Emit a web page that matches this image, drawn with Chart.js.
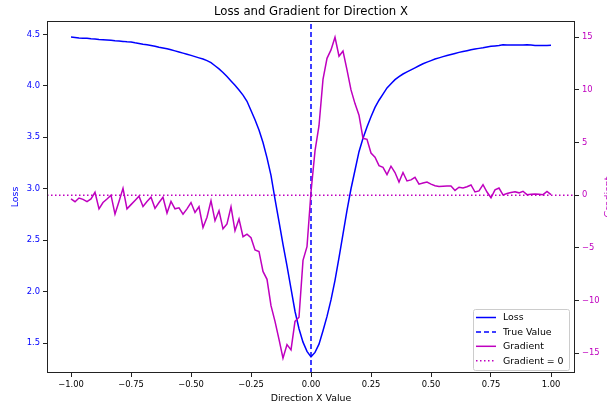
<!DOCTYPE html>
<html>
<head>
<meta charset="utf-8">
<script src="https://cdn.jsdelivr.net/npm/chart.js@4.4.0/dist/chart.umd.min.js"></script>
<style>
  html, body { margin: 0; padding: 0; background: #fff; overflow: hidden; }
  #wrap { width: 607px; height: 406px; }
</style>
</head>
<body>
<div id="wrap"><canvas id="lossChart" width="607" height="406"></canvas></div>
<script>
// x positions of the samples (direction X value)
const xValues = [
  -1.0, -0.9833, -0.9667, -0.95, -0.9333, -0.9167, -0.9, -0.8833, -0.8667, -0.85,
  -0.8333, -0.8167, -0.8, -0.7833, -0.7667, -0.75, -0.7333, -0.7167, -0.7, -0.6833,
  -0.6667, -0.65, -0.6333, -0.6167, -0.6, -0.5833, -0.5667, -0.55, -0.5333, -0.5167,
  -0.5, -0.4833, -0.4667, -0.45, -0.4333, -0.4167, -0.4, -0.3833, -0.3667, -0.35,
  -0.3333, -0.3167, -0.3, -0.2833, -0.2667, -0.25, -0.2333, -0.2167, -0.2, -0.1833,
  -0.1667, -0.15, -0.1333, -0.1167, -0.1, -0.0833, -0.0667, -0.05, -0.0333, -0.0167,
  0.0, 0.0167, 0.0333, 0.05, 0.0667, 0.0833, 0.1, 0.1167, 0.1333, 0.15,
  0.1667, 0.1833, 0.2, 0.2167, 0.2333, 0.25, 0.2667, 0.2833, 0.3, 0.3167,
  0.3333, 0.35, 0.3667, 0.3833, 0.4, 0.4167, 0.4333, 0.45, 0.4667, 0.4833,
  0.5, 0.5167, 0.5333, 0.55, 0.5667, 0.5833, 0.6, 0.6167, 0.6333, 0.65,
  0.6667, 0.6833, 0.7, 0.7167, 0.7333, 0.75, 0.7667, 0.7833, 0.8, 0.8167,
  0.8333, 0.85, 0.8667, 0.8833, 0.9, 0.9167, 0.9333, 0.95, 0.9667, 0.9833,
  1.0
];

// loss values (left axis)
const lossValues = [
  4.474, 4.470, 4.466, 4.463, 4.462, 4.458, 4.455, 4.450, 4.448, 4.445,
  4.442, 4.438, 4.435, 4.432, 4.428, 4.425, 4.418, 4.412, 4.405, 4.399,
  4.393, 4.385, 4.376, 4.368, 4.360, 4.351, 4.340, 4.329, 4.318, 4.307,
  4.296, 4.284, 4.272, 4.260, 4.245, 4.225, 4.195, 4.165, 4.130, 4.090,
  4.047, 4.005, 3.960, 3.910, 3.850, 3.760, 3.670, 3.570, 3.450, 3.300,
  3.130, 2.900, 2.680, 2.460, 2.250, 2.030, 1.810, 1.640, 1.510, 1.420,
  1.367, 1.410, 1.490, 1.620, 1.760, 1.920, 2.110, 2.330, 2.560, 2.790,
  3.000, 3.180, 3.360, 3.490, 3.600, 3.700, 3.790, 3.860, 3.920, 3.980,
  4.020, 4.060, 4.090, 4.115, 4.135, 4.155, 4.175, 4.195, 4.215, 4.230,
  4.245, 4.260, 4.272, 4.284, 4.295, 4.305, 4.315, 4.325, 4.334, 4.342,
  4.350, 4.357, 4.364, 4.370, 4.378, 4.384, 4.388, 4.392, 4.400, 4.398,
  4.397, 4.397, 4.398, 4.398, 4.399, 4.396, 4.393, 4.392, 4.393, 4.393,
  4.394
];

// gradient values (right axis)
const gradientValues = [
  -0.36, -0.62, -0.27, -0.40, -0.62, -0.36, 0.27, -1.30, -0.70, -0.36,
  0.00, -1.80, -0.60, 0.65, -1.30, -0.90, -0.50, -0.10, -1.07, -0.60,
  -0.20, -1.25, -0.70, -0.20, -1.70, -0.60, -1.30, -1.20, -1.80, -1.30,
  -0.70, -1.64, -1.10, -3.07, -2.10, -0.52, -2.43, -1.48, -3.20, -2.74,
  -1.10, -3.38, -2.27, -3.95, -3.70, -4.05, -5.20, -5.35, -7.25, -8.00,
  -10.50, -12.00, -13.70, -15.50, -14.20, -14.70, -12.00, -11.60, -6.20, -4.90,
  0.30, 4.20, 6.60, 11.00, 13.00, 13.80, 15.00, 13.20, 13.70, 11.90,
  10.00, 8.70, 7.60, 5.40, 5.30, 4.00, 3.60, 2.80, 2.65, 1.95,
  2.75, 2.15, 1.25, 2.15, 1.35, 1.45, 1.70, 1.05, 1.15, 1.25,
  1.05, 0.90, 0.82, 0.85, 0.87, 0.88, 0.45, 0.75, 0.68, 0.80,
  0.97, 0.30, 0.40, 1.00, 0.30, -0.25, 0.50, 0.68, 0.02, 0.15,
  0.25, 0.33, 0.22, 0.37, 0.05, 0.08, 0.10, 0.08, 0.05, 0.35,
  0.05
];

const trueValue = 0;

// axis ranges and ticks
const xRange = [-1.1, 1.1];
const lossRange = [1.21, 4.63];
const gradRange = [-16.9, 16.55];
const xTicks = [-1, -0.75, -0.5, -0.25, 0, 0.25, 0.5, 0.75, 1];
const lossTicks = [1.5, 2.0, 2.5, 3.0, 3.5, 4.0, 4.5];
const gradTicks = [-15, -10, -5, 0, 5, 10, 15];

const BLUE = '#0000ff';
const MAGENTA = '#bf00bf';
const FONT = 'DejaVu Sans';
const TICK_SIZE = 8.4;
const LABEL_SIZE = 9.4;
const TITLE_SIZE = 11.7;

function fmt(v, digits) {
    const s = Math.abs(v).toFixed(digits);
    return v < 0 ? '\u2212' + s : s;
}

const lossPoints = xValues.map((x, i) => ({ x: x, y: lossValues[i] }));
const gradPoints = xValues.map((x, i) => ({ x: x, y: gradientValues[i] }));

// title, frame, right axis label and the boxed legend
const decorPlugin = {
    id: 'decor',
    afterDraw(chart) {
        const { ctx, chartArea: a } = chart;
        ctx.save();

        // frame round the axes
        ctx.strokeStyle = '#222';
        ctx.lineWidth = 1;
        ctx.strokeRect(a.left + 0.5, a.top + 0.5, a.right - a.left - 1, a.bottom - a.top - 1);

        // title
        ctx.fillStyle = '#000';
        ctx.font = TITLE_SIZE + 'px "' + FONT + '"';
        ctx.textAlign = 'center';
        ctx.textBaseline = 'middle';
        ctx.fillText('Loss and Gradient for Direction X', (a.left + a.right) / 2, 12);

        // right axis label, read bottom to top like matplotlib (mostly cut off by the edge)
        ctx.save();
        ctx.translate(609, (a.top + a.bottom) / 2);
        ctx.rotate(-Math.PI / 2);
        ctx.fillStyle = MAGENTA;
        ctx.font = LABEL_SIZE + 'px "' + FONT + '"';
        ctx.fillText('Gradient', 0, 0);
        ctx.restore();

        // legend
        const w = 96, h = 61;
        const x0 = a.right - 6 - w, y0 = a.bottom - 3 - h;
        ctx.fillStyle = 'rgba(255,255,255,0.8)';
        ctx.strokeStyle = '#cccccc';
        ctx.beginPath();
        ctx.roundRect(x0 + 0.5, y0 + 0.5, w, h, 2);
        ctx.fill();
        ctx.stroke();

        ctx.font = LABEL_SIZE + 'px "' + FONT + '"';
        ctx.textAlign = 'left';
        chart.data.datasets.forEach((ds, i) => {
            const y = y0 + 8.5 + i * 14.4;
            ctx.strokeStyle = ds.borderColor;
            ctx.lineWidth = ds.borderWidth;
            ctx.setLineDash(ds.borderDash || []);
            ctx.beginPath();
            ctx.moveTo(x0 + 3, y);
            ctx.lineTo(x0 + 23, y);
            ctx.stroke();
            ctx.setLineDash([]);
            ctx.fillStyle = '#000';
            ctx.fillText(ds.label, x0 + 30, y + 0.5);
        });
        ctx.restore();
    }
};

const config = {
    type: 'line',
    data: {
        datasets: [{
            label: 'Loss',
            data: lossPoints,
            yAxisID: 'y',
            borderColor: BLUE,
            borderWidth: 1.5,
            pointRadius: 0,
            tension: 0,
            order: 2
        }, {
            label: 'True Value',
            data: [{ x: trueValue, y: lossRange[0] }, { x: trueValue, y: lossRange[1] }],
            yAxisID: 'y',
            borderColor: BLUE,
            borderWidth: 1.5,
            borderDash: [5, 3],
            pointRadius: 0,
            order: 1
        }, {
            label: 'Gradient',
            data: gradPoints,
            yAxisID: 'y2',
            borderColor: MAGENTA,
            borderWidth: 1.5,
            pointRadius: 0,
            tension: 0,
            order: 0
        }, {
            label: 'Gradient = 0',
            data: [{ x: xRange[0], y: 0 }, { x: xRange[1], y: 0 }],
            yAxisID: 'y2',
            borderColor: MAGENTA,
            borderWidth: 1.5,
            borderDash: [1.5, 2.5],
            pointRadius: 0,
            order: 0
        }]
    },
    options: {
        responsive: false,
        animation: false,
        devicePixelRatio: 1,
        layout: { padding: { top: 21, left: 0, right: 0, bottom: 0 } },
        plugins: {
            legend: { display: false },
            title: { display: false },
            tooltip: { enabled: false }
        },
        scales: {
            x: {
                type: 'linear',
                min: xRange[0],
                max: xRange[1],
                afterBuildTicks: (scale) => { scale.ticks = xTicks.map(v => ({ value: v })); },
                afterFit: (scale) => { scale.height = 33; },
                border: { display: false },
                grid: { drawOnChartArea: false, drawTicks: true, tickLength: 4, color: '#222' },
                ticks: {
                    autoSkip: false,
                    maxRotation: 0,
                    padding: 3,
                    color: '#000',
                    font: { family: FONT, size: TICK_SIZE },
                    callback: (v) => fmt(v, 2)
                },
                title: {
                    display: true,
                    text: 'Direction X Value',
                    color: '#000',
                    font: { family: FONT, size: LABEL_SIZE },
                    padding: { top: 0, bottom: 1.4 }
                }
            },
            y: {
                position: 'left',
                min: lossRange[0],
                max: lossRange[1],
                afterBuildTicks: (scale) => { scale.ticks = lossTicks.map(v => ({ value: v })); },
                afterFit: (scale) => { scale.width = 47; },
                border: { display: false },
                grid: { drawOnChartArea: false, drawTicks: true, tickLength: 4, color: '#222' },
                ticks: {
                    autoSkip: false,
                    padding: 3,
                    color: BLUE,
                    font: { family: FONT, size: TICK_SIZE },
                    callback: (v) => fmt(v, 1)
                },
                title: {
                    display: true,
                    text: 'Loss',
                    color: BLUE,
                    font: { family: FONT, size: LABEL_SIZE },
                    padding: { top: 10.4, bottom: 0 }
                }
            },
            y2: {
                position: 'right',
                min: gradRange[0],
                max: gradRange[1],
                afterBuildTicks: (scale) => { scale.ticks = gradTicks.map(v => ({ value: v })); },
                afterFit: (scale) => { scale.width = 32; },
                border: { display: false },
                grid: { drawOnChartArea: false, drawTicks: true, tickLength: 4, color: '#222' },
                ticks: {
                    autoSkip: false,
                    padding: 3,
                    color: MAGENTA,
                    font: { family: FONT, size: TICK_SIZE },
                    callback: (v) => fmt(v, 0)
                }
            }
        }
    },
    plugins: [decorPlugin]
};

const ctx = document.getElementById('lossChart').getContext('2d');
const lossChart = new Chart(ctx, config);
</script>
</body>
</html>
